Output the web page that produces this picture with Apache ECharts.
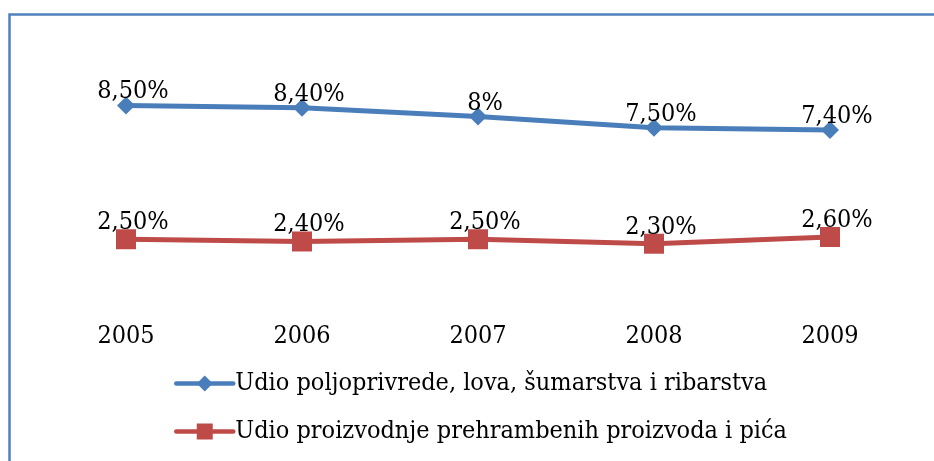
<!DOCTYPE html>
<html>
<head>
<meta charset="utf-8">
<style>
  html, body { margin: 0; padding: 0; background: #fff; }
  #chart { width: 934px; height: 461px; }
</style>
<script src="https://cdn.jsdelivr.net/npm/echarts@6/dist/echarts.min.js"></script>
</head>
<body>
<div id="chart"></div>
<script>
var years = ['2005', '2006', '2007', '2008', '2009'];
var poljoprivreda = [8.5, 8.4, 8.0, 7.5, 7.4];
var prehrambeni = [2.5, 2.4, 2.5, 2.3, 2.6];
var poljoprivredaLabels = ['8,50%', '8,40%', '8%', '7,50%', '7,40%'];
var prehrambeniLabels = ['2,50%', '2,40%', '2,50%', '2,30%', '2,60%'];
var nameA = 'Udio poljoprivrede, lova, šumarstva i ribarstva';
var nameB = 'Udio proizvodnje prehrambenih proizvoda i pića';

var font = '"DejaVu Serif Condensed", "DejaVu Serif"';
var myChart = echarts.init(document.getElementById('chart'));

var option = {
    animation: false,
    textStyle: { fontFamily: font },
    graphic: [{
        type: 'rect',
        shape: { x: 9.5, y: 14.5, width: 940, height: 470 },
        style: { fill: 'none', stroke: '#4f81bd', lineWidth: 2.5 }
    }],
    grid: { left: 38, right: 16, top: 72, bottom: 166 },
    legend: {
        orient: 'vertical',
        left: 169,
        top: 366,
        itemWidth: 57,
        itemHeight: 20,
        itemGap: 23,
        lineStyle: { width: 4.5, cap: 'round' },
        textStyle: { fontFamily: font, fontSize: 25, color: '#000', padding: [0, 0, 0, -3] },
        data: [nameA, nameB]
    },
    xAxis: {
        type: 'category',
        data: years,
        axisLine: { show: false },
        axisTick: { show: false },
        axisLabel: { fontFamily: font, fontSize: 25, color: '#000', margin: 29 }
    },
    yAxis: {
        type: 'value',
        min: 0,
        max: 10,
        show: false
    },
    series: [{
        name: nameA,
        type: 'line',
        data: poljoprivreda,
        symbol: 'diamond',
        symbolSize: 18,
        lineStyle: { color: '#4a7ebb', width: 5 },
        itemStyle: { color: '#4a7ebb' },
        label: {
            show: true,
            position: 'top',
            distance: -8,
            offset: [7, 0],
            fontFamily: font,
            fontSize: 25,
            color: '#000',
            formatter: function (p) { return poljoprivredaLabels[p.dataIndex]; }
        }
    }, {
        name: nameB,
        type: 'line',
        data: prehrambeni,
        symbol: 'rect',
        symbolSize: 20,
        lineStyle: { color: '#be4b48', width: 5 },
        itemStyle: { color: '#be4b48' },
        label: {
            show: true,
            position: 'top',
            distance: -6,
            offset: [7, 0],
            fontFamily: font,
            fontSize: 25,
            color: '#000',
            formatter: function (p) { return prehrambeniLabels[p.dataIndex]; }
        }
    }]
};

myChart.setOption(option);
window.addEventListener('resize', function () {
    myChart.resize();
});
</script>
</body>
</html>
